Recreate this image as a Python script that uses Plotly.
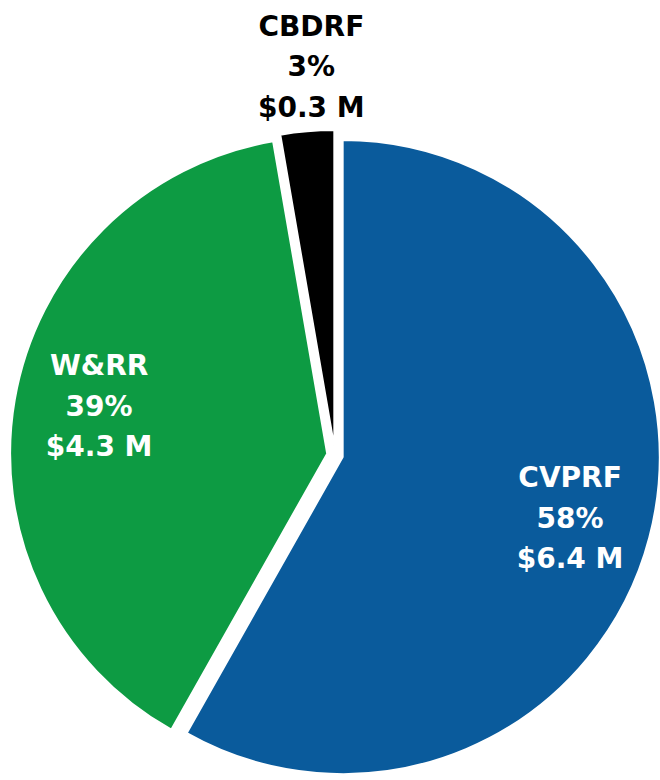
import plotly.graph_objects as go

# ---- data ----
labels = ["CVPRF", "W&RR", "CBDRF"]
values = [6.4, 4.3, 0.3]          # $ millions
colors = ["#0A5B9C", "#0D9B43", "#000000"]

total = sum(values)
FONT = "DejaVu Sans"
GLYPH = 28      # glyph size of the labels
PITCH = 31      # outer font size (controls line spacing)

fig = go.Figure()

# coloured pie (slices)
fig.add_trace(go.Pie(
    labels=labels, values=values, sort=False, direction="clockwise", rotation=0,
    marker=dict(colors=colors, line=dict(color="white", width=2)),
    pull=[0.025] * len(values),
    textinfo="none", hoverinfo="label+value+percent",
    domain=dict(x=[10 / 660, 1], y=[0, 650 / 780]),
))

# transparent ring carrying the slice labels (places them further out)
span = f"<span style='font-size:{GLYPH}px'>"
fig.add_trace(go.Pie(
    labels=labels, values=values, sort=False, direction="clockwise", rotation=1.1,
    marker=dict(colors=["rgba(0,0,0,0)"] * len(values), line=dict(width=0)),
    hole=0.50,
    texttemplate=span + "%{label}</span><br>" + span + "%{percent:.0%}</span><br>"
                 + span + "$%{value:.1f} M</span>",
    textposition=["inside", "inside", "none"],
    insidetextorientation="horizontal",
    insidetextfont=dict(family=FONT, size=PITCH, color="white", weight="bold"),
    hoverinfo="skip",
    domain=dict(x=[14 / 660, 1], y=[5 / 780, 651 / 780]),
))

# label of the small slice, above the pie
small_pct = round(values[2] / total * 100)
fig.add_annotation(
    text=f"{span}{labels[2]}</span><br>{span}{small_pct}%</span><br>{span}${values[2]:.1f} M</span>",
    x=311 / 660, y=1 - 8 / 780, xref="paper", yref="paper",
    xanchor="center", yanchor="top", showarrow=False, align="center",
    font=dict(family=FONT, size=PITCH, color="black", weight="bold"),
)

fig.update_layout(
    width=660, height=780,
    margin=dict(l=0, r=0, t=0, b=0),
    paper_bgcolor="white", plot_bgcolor="white",
    showlegend=False,
)

fig.write_html(
    "out.html",
    config={"displayModeBar": False},
    post_script="document.body.style.margin='0';"
                "document.body.style.overflow='hidden';"
                "document.documentElement.style.overflow='hidden';",
)
